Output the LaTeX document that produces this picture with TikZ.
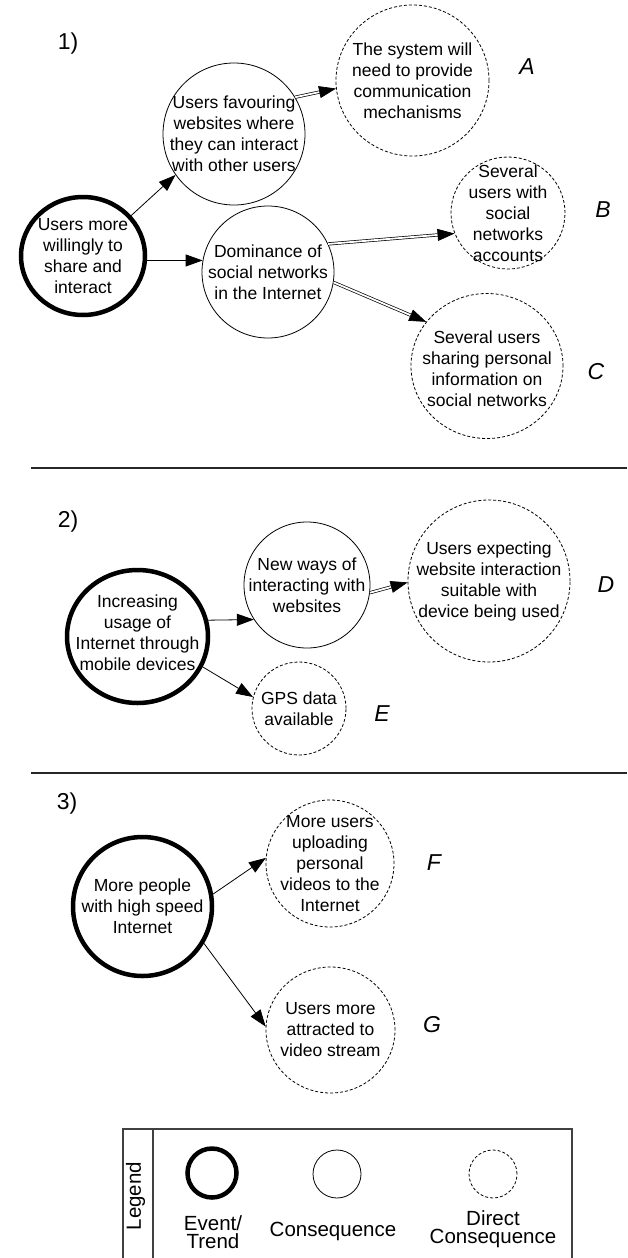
\documentclass[tikz,border=0pt]{standalone}
\usepackage{fontspec}
\setmainfont{Liberation Sans}
\usetikzlibrary{shapes.geometric,arrows.meta}

\begin{document}
\begin{tikzpicture}[x=1pt,y=-1pt,
  event/.style={ellipse, draw, line width=4.5pt, inner sep=0pt},
  cons/.style={ellipse, draw, line width=0.8pt, inner sep=0pt},
  dcons/.style={ellipse, draw, line width=0.8pt, dash pattern=on 3pt off 2pt, inner sep=0pt},
  txt/.style={align=center, inner sep=0pt, font=\fontsize{17.5}{21}\selectfont},
  tag/.style={inner sep=0pt, font=\fontsize{23}{27}\selectfont\itshape},
  num/.style={inner sep=0pt, font=\fontsize{23}{27}\selectfont},
  legtxt/.style={align=center, inner sep=0pt, font=\fontsize{20.5}{18.5}\selectfont},
  arr/.style={line width=0.8pt, -{Triangle[length=17pt,width=12pt]}},
  darr/.style={line width=0.7pt, double, double distance=1.8pt, -{Triangle[length=17pt,width=12pt]}},
  divider/.style={line width=1.2pt, black!85},
  legline/.style={line width=1.2pt, black!75},
]
\useasboundingbox (0,0) rectangle (627,1258);

% ---------- part 1 ----------
\node[num] (n1) at (68,44) {1)};
\node[event, minimum width=124pt, minimum height=118pt] (share) at (83,256) {};
\node[txt] (sharet) at (share) {Users more\\willingly to\\share and\\interact};
\node[cons, minimum width=142pt, minimum height=142pt] (fav) at (234,134) {};
\node[txt] (favt) at (fav) {Users favouring\\websites where\\they can interact\\with other users};
\node[dcons, minimum width=153pt, minimum height=151pt] (sys) at (412.5,80.5) {};
\node[txt] (syst) at (sys) {The system will\\need to provide\\communication\\mechanisms};
\node[cons, minimum width=132pt, minimum height=132pt] (dom) at (268,272) {};
\node[txt] (domt) at (dom) {Dominance of\\social networks\\in the Internet};
\node[dcons, minimum width=114pt, minimum height=112pt] (acc) at (508,213) {};
\node[txt] (acct) at (acc) {Several\\users with\\social\\networks\\accounts};
\node[dcons, minimum width=152pt, minimum height=145pt] (info) at (487,366) {};
\node[txt] (infot) at (487,369) {Several users\\sharing personal\\information on\\social networks};

\node[tag] (tA) at (527,67) {A};
\node[tag] (tB) at (603,210) {B};
\node[tag] (tC) at (596,372) {C};

\draw[arr] (share.40) -- (fav.215);
\draw[arr] (share.-4) -- (dom.170);
\draw[darr] (fav.31) -- (sys.186);
\draw[darr] (dom.25) -- (acc.201);
\draw[darr] (dom.-9) -- (info.144);

\coordinate (d1a) at (31,468);
\coordinate (d1b) at (627,468);
\draw[divider] (d1a) -- (d1b);

% ---------- part 2 ----------
\node[num] (n2) at (68,522) {2)};
\node[event, minimum width=141pt, minimum height=133pt] (mob) at (137.5,636.5) {};
\node[txt] (mobt) at (137.5,633) {Increasing\\usage of\\Internet through\\mobile devices};
\node[cons, minimum width=126pt, minimum height=126pt] (ways) at (307,585) {};
\node[txt] (wayst) at (ways) {New ways of\\interacting with\\websites};
\node[dcons, minimum width=162pt, minimum height=162pt] (exp) at (489,581) {};
\node[txt] (expt) at (exp) {Users expecting\\website interaction\\suitable with\\device being used};
\node[dcons, minimum width=94pt, minimum height=93pt] (gps) at (299,708.5) {};
\node[txt] (gpst) at (gps) {GPS data\\available};

\node[tag] (tD) at (606,585) {D};
\node[tag] (tE) at (382,714) {E};

\draw[arr] (mob.13) -- (ways.213);
\draw[arr] (mob.-25) -- (gps.166);
\draw[darr] (ways.-7) -- (exp.181);

\coordinate (d2a) at (31,773);
\coordinate (d2b) at (627,773);
\draw[divider] (d2a) -- (d2b);

% ---------- part 3 ----------
\node[num] (n3) at (67,804) {3)};
\node[event, minimum width=139pt, minimum height=139pt] (speed) at (142.5,906.5) {};
\node[txt] (speedt) at (speed) {More people\\with high speed\\Internet};
\node[dcons, minimum width=128pt, minimum height=127pt] (vid) at (330,863.5) {};
\node[txt] (vidt) at (vid) {More users\\uploading\\personal\\videos to the\\Internet};
\node[dcons, minimum width=129pt, minimum height=126pt] (str) at (330.5,1030) {};
\node[txt] (strt) at (str) {Users more\\attracted to\\video stream};

\node[tag] (tF) at (434,863) {F};
\node[tag] (tG) at (432,1025) {G};

\draw[arr] (speed.10) -- (vid.175);
\draw[arr] (speed.-31) -- (str.177);

% ---------- legend ----------
\draw[legline] (123,1262) -- (123,1129) -- (572,1129) -- (572,1262);
\draw[legline] (153,1129) -- (153,1262);
\node[legtxt, rotate=90] (legt) at (135.5,1196) {Legend};
\node[event, minimum width=49pt, minimum height=49pt] (lev) at (212,1173) {};
\node[cons, minimum width=48pt, minimum height=48pt] (lcons) at (337,1174) {};
\node[dcons, minimum width=48pt, minimum height=48pt] (ldcons) at (493,1174) {};
\node[legtxt] (levt) at (213,1232) {Event/\\Trend};
\node[legtxt] (lconst) at (333,1231) {Consequence};
\node[legtxt] (ldconst) at (493,1229) {Direct\\Consequence};
\end{tikzpicture}
\end{document}
